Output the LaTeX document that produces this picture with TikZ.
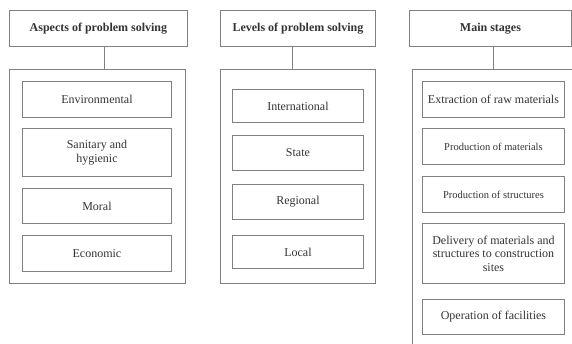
\documentclass[tikz,border=0pt]{standalone}
\usepackage{fontspec}
\setmainfont{Liberation Serif}
\definecolor{linegray}{HTML}{808080}
\definecolor{textgray}{HTML}{333333}
\tikzset{
  box/.style={draw=linegray, line width=0.9pt, anchor=north west, inner sep=0pt,
    align=center, text=textgray, font=\fontsize{12}{13.5}\selectfont},
  head/.style={box, font=\bfseries\fontsize{12}{13.5}\selectfont},
  frame/.style={draw=linegray, line width=0.9pt, anchor=north west, inner sep=0pt},
  link/.style={draw=linegray, line width=0.9pt}
}
\newcommand{\bx}[6]{% name, x1, y1, x2, y2, text
  \node[box, minimum width=#4pt-#2pt, minimum height=#5pt-#3pt] (#1) at (#2,#3) {#6};}
\begin{document}
\begin{tikzpicture}[x=1pt,y=-1pt]
\useasboundingbox (0,0) rectangle (572,343);
\clip (0,0) rectangle (572,343);
% Panel 1
\node[head, minimum width=178pt, minimum height=36pt] (h1) at (9,10) {Aspects of problem solving};
\node[frame, minimum width=176pt, minimum height=214pt] (f1) at (9,69) {};
\draw[link] (h1.south -| 104,0) -- (f1.north -| 104,0);
\bx{a1}{22}{81}{171}{117}{Environmental}
\bx{a2}{22}{128}{171}{176}{Sanitary and\\hygienic}
\bx{a3}{22}{188}{171}{223}{Moral}
\bx{a4}{22}{235}{171}{271}{Economic}
% Panel 2
\node[head, minimum width=155pt, minimum height=36pt] (h2) at (220,10) {Levels of problem solving};
\node[frame, minimum width=155pt, minimum height=214pt] (f2) at (220,69) {};
\draw[link] (h2.south -| 292,0) -- (f2.north -| 292,0);
\bx{b1}{232}{89}{363}{122}{International}
\bx{b2}{232}{135}{363}{170}{State}
\bx{b3}{232}{184}{363}{219}{Regional}
\bx{b4}{232}{235}{363}{268}{Local}
% Panel 3
\node[head, minimum width=162pt, minimum height=36pt] (h3) at (409,10) {Main stages};
\node[frame, minimum width=200pt, minimum height=300pt] (f3) at (412,69) {};
\draw[link] (h3.south -| 493,0) -- (f3.north -| 493,0);
\bx{c1}{422}{81}{564}{117}{Extraction of raw materials}
\node[box, font=\fontsize{10.5}{12}\selectfont, minimum width=142pt, minimum height=36pt] (c2) at (422,128) {Production of materials};
\node[box, font=\fontsize{10.5}{12}\selectfont, minimum width=142pt, minimum height=36pt] (c3) at (422,176) {Production of structures};
\bx{c4}{422}{223}{564}{283}{Delivery of materials and\\structures to construction\\sites}
\bx{c5}{422}{299}{564}{334}{Operation of facilities}
\end{tikzpicture}
\end{document}
